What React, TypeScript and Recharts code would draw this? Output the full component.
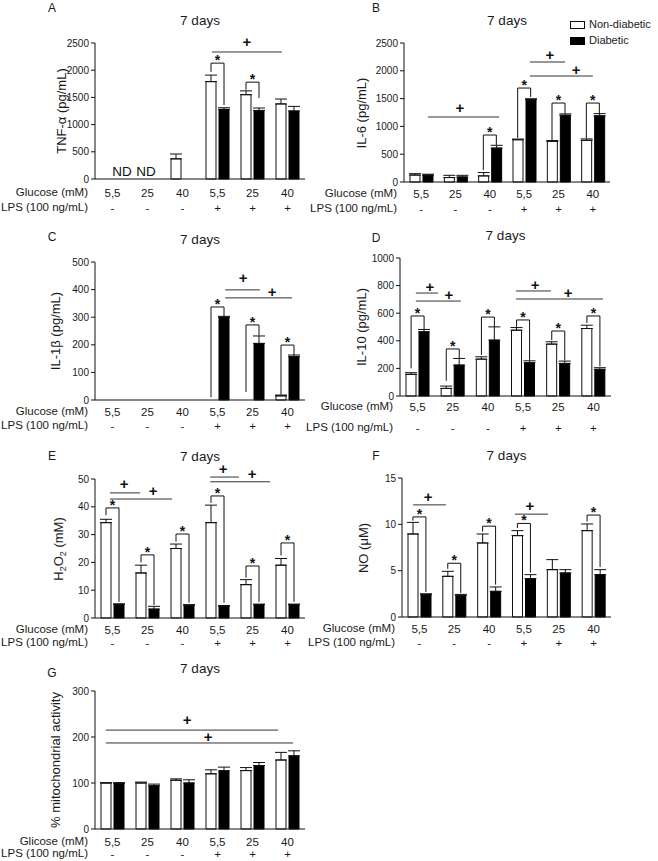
import React from "react";
import { BarChart, Bar, XAxis, YAxis, ErrorBar, ReferenceLine, ReferenceDot } from "recharts";

const FONT = '"Liberation Sans", Arial, sans-serif';

const glucose = ["5,5", "25", "40", "5,5", "25", "40"];
const lps = ["-", "-", "-", "+", "+", "+"];

// A - TNF-a
const tnfNon = [null, null, 370, 1790, 1550, 1380];
const tnfNonErr = [0, 0, 90, 120, 70, 90];
const tnfDia = [null, null, null, 1280, 1260, 1250];
const tnfDiaErr = [0, 0, 0, 30, 45, 85];
const tnfStars = [
  { g: 3, top: 2130, lb: 1970, rb: 1360 },
  { g: 4, top: 1780, lb: 1640, rb: 1490 },
];
const tnfPlus = [{ x1: 3.34, x2: 5.34, y: 2335, px: 4.34, py: 2520 }];
const tnfNotes = [
  { x: 0.77, y: 147, t: "ND" },
  { x: 1.46, y: 147, t: "ND" },
];

// B - IL-6
const il6Non = [125, 80, 110, 760, 730, 750];
const il6NonErr = [25, 40, 60, 12, 15, 25];
const il6Dia = [125, 90, 610, 1480, 1200, 1190];
const il6DiaErr = [15, 30, 50, 18, 25, 40];
const il6Stars = [
  { g: 2, top: 845, lb: 215, rb: 665 },
  { g: 3, top: 1690, lb: 790, rb: 1530 },
  { g: 4, top: 1420, lb: 755, rb: 1240 },
  { g: 5, top: 1420, lb: 790, rb: 1240 },
];
const il6Plus = [
  { x1: 0.7, x2: 2.77, y: 1169, px: 1.63, py: 1331 },
  { x1: 3.67, x2: 4.69, y: 2158, px: 4.25, py: 2284 },
  { x1: 3.67, x2: 5.5, y: 1906, px: 5.01, py: 2014 },
];

// C - IL-1b
const il1Non = [null, null, null, null, null, 15];
const il1NonErr = [0, 0, 0, 0, 0, 3];
const il1Dia = [null, null, null, 300, 205, 157];
const il1DiaErr = [0, 0, 0, 3, 27, 6];
const il1Stars = [
  { g: 3, top: 337, lb: 10, rb: 302 },
  { g: 4, top: 272, lb: 29, rb: 234 },
  { g: 5, top: 199, lb: 20, rb: 163 },
];
const il1Plus = [
  { x1: 3.72, x2: 4.71, y: 399, px: 4.23, py: 442 },
  { x1: 3.72, x2: 5.63, y: 370, px: 5.06, py: 391 },
];

// D - IL-10
const il10Non = [157, 55, 267, 477, 376, 489];
const il10NonErr = [12, 17, 17, 19, 17, 24];
const il10Dia = [465, 224, 405, 241, 236, 193];
const il10DiaErr = [17, 48, 96, 14, 17, 12];
const il10Stars = [
  { g: 0, top: 580, lb: 200, rb: 482 },
  { g: 1, top: 341, lb: 110, rb: 275 },
  { g: 2, top: 572, lb: 297, rb: 502 },
  { g: 3, top: 551, lb: 500, rb: 262 },
  { g: 4, top: 471, lb: 405, rb: 258 },
  { g: 5, top: 580, lb: 529, rb: 215 },
];
const il10Plus = [
  { x1: 0.45, x2: 1.08, y: 746, px: 0.85, py: 790 },
  { x1: 0.45, x2: 1.73, y: 688, px: 1.39, py: 732 },
  { x1: 3.3, x2: 4.29, y: 761, px: 3.84, py: 804 },
  { x1: 3.3, x2: 5.77, y: 703, px: 4.78, py: 746 },
];

// E - H2O2
const h2o2Non = [34.3, 16.2, 25.0, 34.3, 12.0, 19.0];
const h2o2NonErr = [1.2, 2.8, 1.6, 6.3, 1.8, 2.4];
const h2o2Dia = [4.9, 3.2, 4.6, 4.3, 4.8, 4.8];
const h2o2DiaErr = [0.2, 1.0, 0.2, 0.2, 0.2, 0.2];
const h2o2Stars = [
  { g: 0, top: 39.6, lb: 37, rb: 5.8 },
  { g: 1, top: 22.7, lb: 20, rb: 4.7 },
  { g: 2, top: 30.2, lb: 27.5, rb: 5.5 },
  { g: 3, top: 43.9, lb: 41.4, rb: 5.5 },
  { g: 4, top: 18.7, lb: 14.5, rb: 5.8 },
  { g: 5, top: 27, lb: 22.5, rb: 5.8 },
];
const h2o2Plus = [
  { x1: 0.43, x2: 1.29, y: 45, px: 0.83, py: 48.2 },
  { x1: 0.43, x2: 2.2, y: 42.8, px: 1.66, py: 45.7 },
  { x1: 3.29, x2: 4.11, y: 50.7, px: 3.66, py: 53.6 },
  { x1: 3.29, x2: 5.0, y: 49, px: 4.49, py: 51.8 },
];

// F - NO
const noNon = [8.96, 4.39, 7.99, 8.78, 5.11, 9.32];
const noNonErr = [1.25, 0.54, 0.97, 0.54, 1.08, 0.72];
const noDia = [2.41, 2.34, 2.77, 4.14, 4.75, 4.57];
const noDiaErr = [0.1, 0.1, 0.47, 0.43, 0.36, 0.54];
const noStars = [
  { g: 0, top: 10.8, lb: 10.4, rb: 2.7 },
  { g: 1, top: 5.8, lb: 5.2, rb: 2.6 },
  { g: 2, top: 9.8, lb: 9.2, rb: 3.5 },
  { g: 3, top: 10.1, lb: 9.6, rb: 4.8 },
  { g: 5, top: 11.0, lb: 10.3, rb: 5.4 },
];
const noPlus = [
  { x1: 0.32, x2: 1.26, y: 12.1, px: 0.75, py: 12.9 },
  { x1: 3.24, x2: 4.19, y: 11.1, px: 3.67, py: 12.0 },
];

// G - mitochondrial activity
const mitoNon = [100, 100, 106, 120, 127, 150];
const mitoNonErr = [0.5, 2, 3, 8.7, 6.5, 16.6];
const mitoDia = [100, 94, 100, 126.5, 138, 159];
const mitoDiaErr = [0.5, 3.6, 7, 8, 6.5, 11];
const mitoPlus = [
  { x1: 0.31, x2: 5.23, y: 215, px: 2.63, py: 237 },
  { x1: 0.31, x2: 5.66, y: 187, px: 3.23, py: 200 },
];

type Bk = { g: number; top: number; lb: number; rb: number };
type Pl = { x1: number; x2: number; y: number; px: number; py: number };

const rows = (non: any[], nonE: number[], dia: any[], diaE: number[]) =>
  non.map((v, i) => ({
    k: "c" + i,
    non: v,
    nonE: v == null ? null : [0, nonE[i]],
    dia: dia[i],
    diaE: dia[i] == null ? null : [0, diaE[i]],
  }));

// position on the category scale: group index + pixel shift from the group centre
const at = (u: number, band: number) => {
  const g = Math.min(5, Math.max(0, Math.floor(u)));
  return { cat: "c" + g, dx: (u - g - 0.5) * band };
};

const glyph = (ch: string, size: number, dx: number, dy: number, weight = 700) => (sp: any) => (
  <text x={sp.cx + dx} y={sp.cy + dy} textAnchor="middle" fontSize={size} fontWeight={weight} fontFamily={FONT} fill="#111">
    {ch}
  </text>
);

const shifted = (dx1: number, dx2: number, stroke: string) => (lp: any) => (
  <line x1={lp.x1 + dx1} y1={lp.y1} x2={lp.x2 + dx2} y2={lp.y2} stroke={stroke} strokeWidth={1} />
);

const XTick = (tp: any) => {
  const i = typeof tp.index === "number" ? tp.index : tp.payload.index;
  return (
    <g fontFamily={FONT} fontSize={11.5} fill="#1a1a1a">
      <text x={tp.x} y={tp.y + tp.gdy} textAnchor="middle" dominantBaseline="central">{glucose[i]}</text>
      <text x={tp.x} y={tp.y + tp.ldy} textAnchor="middle" dominantBaseline="central">{lps[i]}</text>
    </g>
  );
};

function Panel(p: any) {
  const ML = 95;
  const left = p.L - ML;
  const top = p.T - 40;
  const width = p.R - p.L + ML + 20;
  const height = p.B - p.T + 85;
  const band = (p.R - p.L) / 6;
  const off = 6.5;
  const data = rows(p.non, p.nonE, p.dia, p.diaE);
  const ref = { ifOverflow: "visible" as const };
  const txt = { position: "absolute" as const, whiteSpace: "nowrap" as const, color: "#1a1a1a", lineHeight: 1 };

  return (
    <>
      <div style={{ ...txt, left: p.letter[1], top: p.letter[2], fontSize: 12, transform: "translate(-50%,-50%)" }}>{p.letter[0]}</div>
      <div style={{ ...txt, left: (p.L + p.R) / 2, top: p.T - 22, fontSize: 13.5, transform: "translate(-50%,-50%)" }}>7 days</div>
      <div style={{ ...txt, left: p.labX, top: (p.T + p.B) / 2, fontSize: 13, transform: "translate(-50%,-50%) rotate(-90deg)" }}>{p.yLabel}</div>
      <div style={{ ...txt, left: 0, width: p.L - 7, textAlign: "right", top: p.gy, fontSize: 11.5, transform: "translateY(-50%)" }}>{p.rowName}</div>
      <div style={{ ...txt, left: 0, width: p.L - 7, textAlign: "right", top: p.ly, fontSize: 11.5, transform: "translateY(-50%)" }}>LPS (100 ng/mL)</div>
      <div style={{ position: "absolute", left, top }}>
        <BarChart width={width} height={height} data={data} margin={{ top: 40, right: 20, bottom: 0, left: 35 }} barSize={10} barGap={3}>
          <XAxis
            dataKey="k"
            height={45}
            interval={0}
            tickLine={false}
            tickSize={0}
            tickMargin={0}
            axisLine={{ stroke: "#111" }}
            tick={(tp: any) => <XTick {...tp} gdy={p.gy - p.B} ldy={p.ly - p.B} />}
          />
          <YAxis
            width={60}
            domain={[0, p.ticks[p.ticks.length - 1]]}
            ticks={p.ticks}
            interval={0}
            tickSize={4}
            tickMargin={2}
            tickLine={{ stroke: "#111" }}
            axisLine={{ stroke: "#111" }}
            tick={{ fontSize: 10, fill: "#1a1a1a", fontFamily: FONT }}
          />
          <Bar dataKey="non" fill="#fff" stroke="#111" strokeWidth={1} isAnimationActive={false}>
            <ErrorBar dataKey="nonE" width={6} stroke="#111" strokeWidth={1} direction="y" />
          </Bar>
          <Bar dataKey="dia" fill="#000" stroke="#000" strokeWidth={1} isAnimationActive={false}>
            <ErrorBar dataKey="diaE" width={6} stroke="#111" strokeWidth={1} direction="y" />
          </Bar>
          {p.stars.map((s: Bk, i: number) => {
            const c = "c" + s.g;
            return (
              <React.Fragment key={"s" + i}>
                <ReferenceLine {...ref} segment={[{ x: c, y: s.lb }, { x: c, y: s.top }]} shape={shifted(-off, -off, "#111")} />
                <ReferenceLine {...ref} segment={[{ x: c, y: s.top }, { x: c, y: s.top }]} shape={shifted(-off, off, "#111")} />
                <ReferenceLine {...ref} segment={[{ x: c, y: s.top }, { x: c, y: s.rb }]} shape={shifted(off, off, "#111")} />
                <ReferenceDot {...ref} x={c} y={s.top} r={0} shape={glyph("*", 14, 0, 2)} />
              </React.Fragment>
            );
          })}
          {p.plus.map((l: Pl, i: number) => {
            const a = at(l.x1, band);
            const b = at(l.x2, band);
            const m = at(l.px, band);
            return (
              <React.Fragment key={"p" + i}>
                <ReferenceLine {...ref} segment={[{ x: a.cat, y: l.y }, { x: b.cat, y: l.y }]} shape={shifted(a.dx, b.dx, "#333")} />
                <ReferenceDot {...ref} x={m.cat} y={l.py} r={0} shape={glyph("+", 15, m.dx, 5)} />
              </React.Fragment>
            );
          })}
          {(p.notes || []).map((n: any, i: number) => {
            const m = at(n.x, band);
            return <ReferenceDot key={"n" + i} {...ref} x={m.cat} y={n.y} r={0} shape={glyph(n.t, 13.5, m.dx, 5, 400)} />;
          })}
        </BarChart>
      </div>
    </>
  );
}

export default function App() {
  return (
    <div style={{ position: "absolute", left: 0, top: 0, width: 658, height: 861, background: "#fff", fontFamily: FONT }}>
      <Panel letter={["A", 52, 8]} yLabel="TNF-α (pg/mL)" labX={61} rowName="Glucose (mM)"
        L={95} R={305} T={43} B={179} gy={193} ly={208} ticks={[0, 500, 1000, 1500, 2000, 2500]}
        non={tnfNon} nonE={tnfNonErr} dia={tnfDia} diaE={tnfDiaErr} stars={tnfStars} plus={tnfPlus} notes={tnfNotes} />
      <Panel letter={["B", 376, 8]} yLabel="IL-6 (pg/mL)" labX={361} rowName="Glucose (mM)"
        L={404} R={610} T={43} B={182} gy={194} ly={209} ticks={[0, 500, 1000, 1500, 2000, 2500]}
        non={il6Non} nonE={il6NonErr} dia={il6Dia} diaE={il6DiaErr} stars={il6Stars} plus={il6Plus} />
      <Panel letter={["C", 52, 237]} yLabel="IL-1β (pg/mL)" labX={55} rowName="Glucose (mM)"
        L={95} R={305} T={262} B={400} gy={412} ly={426} ticks={[0, 100, 200, 300, 400, 500]}
        non={il1Non} nonE={il1NonErr} dia={il1Dia} diaE={il1DiaErr} stars={il1Stars} plus={il1Plus} />
      <Panel letter={["D", 376, 238]} yLabel="IL-10 (pg/mL)" labX={361} rowName="Glucose (mM)"
        L={400} R={611} T={258} B={396} gy={407} ly={428} ticks={[0, 200, 400, 600, 800, 1000]}
        non={il10Non} nonE={il10NonErr} dia={il10Dia} diaE={il10DiaErr} stars={il10Stars} plus={il10Plus} />
      <Panel letter={["E", 52, 456]} yLabel={<span>H<sub style={{ fontSize: 9 }}>2</sub>O<sub style={{ fontSize: 9 }}>2</sub> (mM)</span>} labX={60} rowName="Glucose (mM)"
        L={95} R={305} T={479} B={618} gy={630} ly={643} ticks={[0, 10, 20, 30, 40, 50]}
        non={h2o2Non} nonE={h2o2NonErr} dia={h2o2Dia} diaE={h2o2DiaErr} stars={h2o2Stars} plus={h2o2Plus} />
      <Panel letter={["F", 376, 456]} yLabel="NO (μM)" labX={363} rowName="Glucose (mM)"
        L={402} R={611} T={478} B={617} gy={629} ly={643} ticks={[0, 5, 10, 15]}
        non={noNon} nonE={noNonErr} dia={noDia} diaE={noDiaErr} stars={noStars} plus={noPlus} />
      <Panel letter={["G", 52, 673]} yLabel="% mitochondrial activity" labX={55} rowName="Glicose (mM)"
        L={95} R={305} T={691} B={829} gy={842} ly={854} ticks={[0, 100, 200, 300]}
        non={mitoNon} nonE={mitoNonErr} dia={mitoDia} diaE={mitoDiaErr} stars={[]} plus={mitoPlus} />

      <div style={{ position: "absolute", left: 570, top: 21, width: 13, height: 6, border: "1px solid #111", background: "#fff" }} />
      <div style={{ position: "absolute", left: 589, top: 24, fontSize: 11, lineHeight: 1, transform: "translateY(-50%)", color: "#1a1a1a" }}>Non-diabetic</div>
      <div style={{ position: "absolute", left: 570, top: 37, width: 13, height: 6, border: "1px solid #000", background: "#000" }} />
      <div style={{ position: "absolute", left: 589, top: 40, fontSize: 11, lineHeight: 1, transform: "translateY(-50%)", color: "#1a1a1a" }}>Diabetic</div>
    </div>
  );
}
